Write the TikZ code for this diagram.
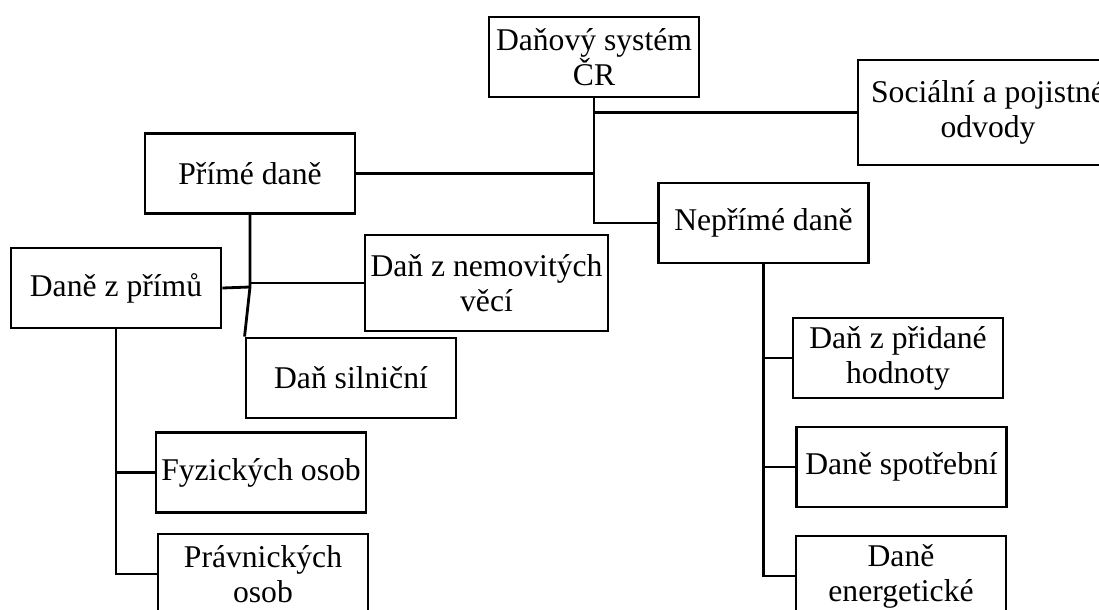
\documentclass[tikz,border=0pt]{standalone}
\usepackage{fontspec}
\setmainfont{Liberation Serif}
\usepackage{tikz}

\begin{document}
\begin{tikzpicture}[x=0.025cm, y=-0.025cm, line width=2pt,
		box/.style={draw, rectangle, align=center, inner sep=0pt,
			minimum width=5.25cm, minimum height=2cm,
			font=\fontsize{22.5}{25}\selectfont}]
		\useasboundingbox (0,0) rectangle (1099,610);
		
		% draw boxes
		\node[box] (sys) at (594,57) {Daňový systém\\ČR};
		\node[box, minimum width=6.5cm, minimum height=2.625cm] (soc) at (988,112.5) {Sociální a pojistné\\odvody};
		\node[box] (prime) at (250,173.5) {Přímé daně};
		\node[box] (neprime) at (763.5,223) {Nepřímé daně};
		\node[box] (prijmy) at (116,288) {Daně z přímů};
		\node[box, minimum width=6.075cm, minimum height=2.4cm] (nemov) at (486.5,283) {Daň z nemovitých\\věcí};
		\node[box] (silnicni) at (351,378) {Daň silniční};
		\node[box] (fyz) at (261,472.5) {Fyzických osob};
		\node[box] (prav) at (263,574) {Právnických\\osob};
		\node[box] (dph) at (898,358) {Daň z přidané\\hodnoty};
		\node[box] (spotr) at (901.5,467) {Daně spotřební};
		\node[box] (energ) at (901,576) {Daně\\energetické};
		
		% draw connectors from the top
		\draw (sys.south) -- (sys.south |- neprime.west) -- (neprime.west);
		\draw (sys.south |- soc.west) -- (soc.west);
		\draw (sys.south |- prime.east) -- (prime.east);
		
		% draw connectors of direct taxes
		\coordinate (pj) at (250,287);
		\draw (prime.south) -- (pj) -- (silnicni.north west);
		\draw (pj) -- (prijmy.east);
		\draw (prime.south |- nemov.west) -- (nemov.west);
		
		% draw connectors of income taxes
		\draw (prijmy.south) -- (prijmy.south |- prav.west) -- (prav.west);
		\draw (prijmy.south |- fyz.west) -- (fyz.west);
		
		% draw connectors of indirect taxes
		\draw (neprime.south) -- (neprime.south |- energ.west) -- (energ.west);
		\foreach \n in {dph,spotr}
		\draw (neprime.south |- \n.west) -- (\n.west);
		
\end{tikzpicture}
\end{document}
